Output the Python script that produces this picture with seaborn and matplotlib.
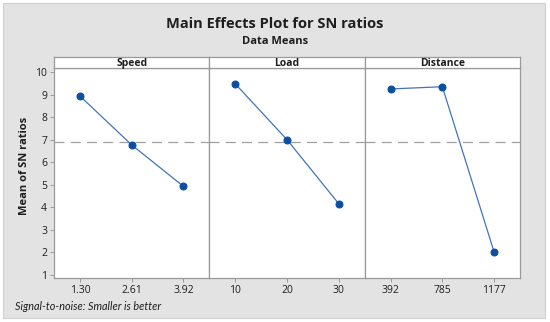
import matplotlib
matplotlib.use("Agg")
import matplotlib.pyplot as plt
from matplotlib.patches import Rectangle
import seaborn as sns
import pandas as pd

factors = ["Speed", "Load", "Distance"]
levels = {
    "Speed": ["1.30", "2.61", "3.92"],
    "Load": ["10", "20", "30"],
    "Distance": ["392", "785", "1177"],
}
means = {
    "Speed": [8.94, 6.77, 4.93],
    "Load": [9.48, 7.00, 4.16],
    "Distance": [9.25, 9.35, 2.02],
}
grand_mean = 6.88
yticks = [1, 2, 3, 4, 5, 6, 7, 8, 9, 10]

sns.set_theme(style="white")
plt.rcParams["font.family"] = ["Open Sans", "DejaVu Sans"]

W, H = 550, 322
fig = plt.figure(figsize=(W / 100, H / 100), dpi=100)
fig.patch.set_facecolor("white")
bg = Rectangle((3 / W, 4 / H), 542 / W, 315 / H, transform=fig.transFigure,
               facecolor="#e3e3e3", edgecolor="#d0d0d0", lw=0.8, zorder=-10)
fig.add_artist(bg)

left_px, right_px = 54, 520
strip_top, plot_top, plot_bot = 57, 68, 278
pw = (right_px - left_px) / 3
line_color = "#4274bb"
marker_color = "#0b4ea2"
edge = "#9a9a9a"
txt = "#1e1e1e"

for i, f in enumerate(factors):
    x0 = (left_px + i * pw) / W
    ax = fig.add_axes([x0, 1 - plot_bot / H, pw / W, (plot_bot - plot_top) / H])
    ax.set_zorder(1)
    df = pd.DataFrame({"pos": [0, 1, 2], "mean": means[f]})
    sns.lineplot(data=df, x="pos", y="mean", ax=ax, color=line_color, lw=0.9,
                 marker="o", markersize=5, markerfacecolor=marker_color,
                 markeredgecolor=marker_color)
    ax.axhline(grand_mean, color="#a0a0a0", lw=0.9, ls=(0, (8, 5)), zorder=0)
    ax.set_xlim(-0.5, 2.5)
    ax.set_ylim(0.867, 10.18)
    ax.set_xticks([0, 1, 2])
    ax.set_xticklabels(levels[f], fontsize=7.5, color=txt)
    ax.set_xlabel("")
    ax.set_ylabel("")
    ax.set_facecolor("white")
    for s in ax.spines.values():
        s.set_color(edge)
        s.set_linewidth(0.9)
    ax.tick_params(axis="x", length=3, width=0.7, color=edge, pad=2, labelsize=7.5, bottom=True)
    ax.set_yticks(yticks)
    if i == 0:
        ax.set_yticklabels([str(t) for t in yticks], fontsize=7.5, color=txt)
        ax.tick_params(axis="y", length=3, width=0.7, color=edge, pad=2, labelsize=7.5, left=True)
    else:
        ax.set_yticklabels([])
        ax.tick_params(axis="y", length=0)
    sax = fig.add_axes([x0, 1 - plot_top / H, pw / W, (plot_top - strip_top) / H])
    sax.set_zorder(1)
    sax.set_xticks([])
    sax.set_yticks([])
    sax.set_facecolor("white")
    for s in sax.spines.values():
        s.set_color(edge)
        s.set_linewidth(0.9)
    sax.text(0.5, 0.45, f, ha="center", va="center", fontsize=7.5, fontweight="bold",
             color=txt, transform=sax.transAxes)

fig.text(25 / W, 1 - 166 / H, "Mean of SN ratios", rotation=90, ha="center", va="center",
         fontsize=8, fontweight="bold", color=txt)
fig.text(0.5, 1 - 23.5 / H, "Main Effects Plot for SN ratios", ha="center", va="center",
         fontsize=10.5, fontweight="bold", color=txt)
fig.text(0.5, 1 - 41 / H, "Data Means", ha="center", va="center",
         fontsize=8, fontweight="bold", color=txt)
fig.text(15 / W, 1 - 307 / H, "Signal-to-noise: Smaller is better", ha="left", va="center",
         fontsize=7.8, style="italic", color=txt, family=["Lato", "DejaVu Sans"])

fig.savefig("out.png", dpi=100)
